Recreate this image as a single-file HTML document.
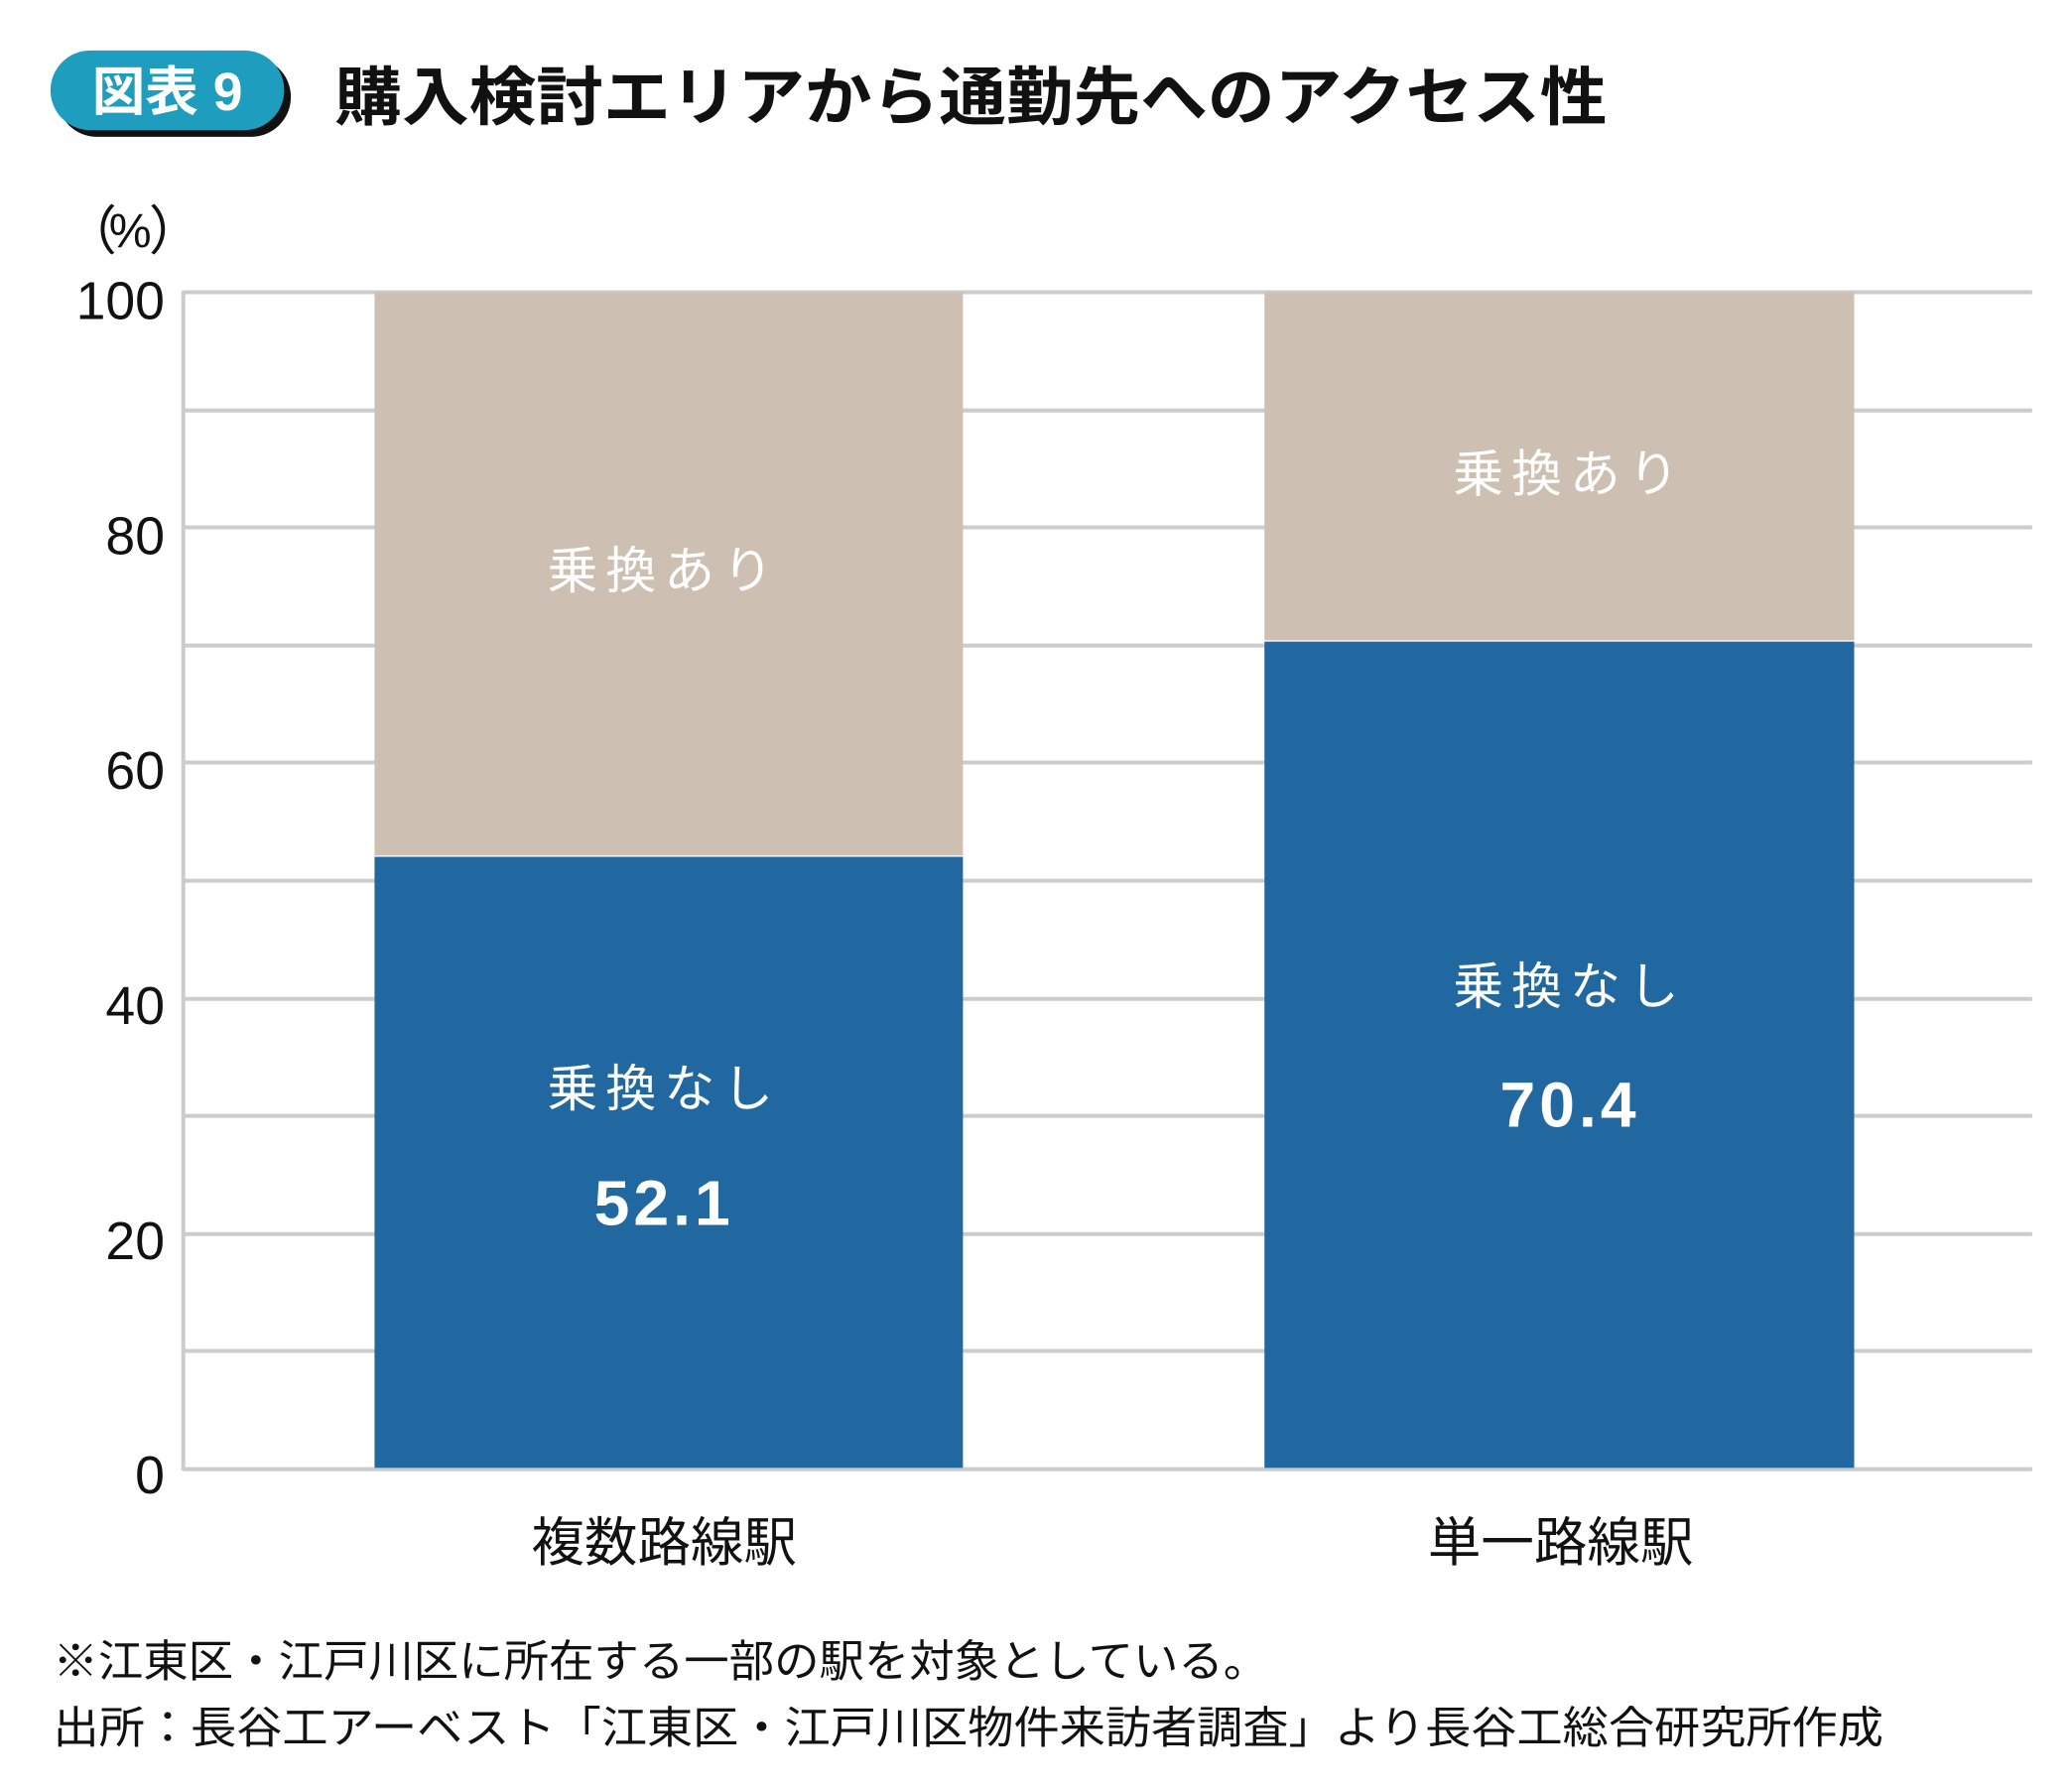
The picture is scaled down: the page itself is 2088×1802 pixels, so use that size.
<!DOCTYPE html>
<html><head><meta charset="utf-8"><style>
html,body{margin:0;padding:0;background:#fff;}
svg{display:block;}
text{font-family:"Liberation Sans","Noto Sans CJK JP",sans-serif;}
</style></head><body>
<svg width="2088" height="1802" viewBox="0 0 1560 1346" preserveAspectRatio="none" xmlns="http://www.w3.org/2000/svg">
<rect width="1560" height="1346" fill="#fff"/>
<rect x="43" y="43" width="176" height="60" rx="30" fill="#111"/>
<rect x="38" y="38" width="176" height="60" rx="30" fill="#1e9dbf"/>
<text x="126" y="83" font-size="40" fill="#fff" text-anchor="middle" font-weight="bold">図表 9</text>
<text x="252" y="90" font-size="48" font-weight="bold" fill="#111" textLength="958" lengthAdjust="spacingAndGlyphs">購入検討エリアから通勤先へのアクセス性</text>
<g font-size="40" fill="#111" font-family="'Noto Sans CJK JP',sans-serif">
<text x="48" y="188">（</text>
<text x="82" y="186" font-size="36">%</text>
<text x="112" y="188">）</text>
</g>
<g stroke="#cccccc" stroke-width="3">
<line x1="138" y1="220" x2="1530" y2="220"/>
<line x1="138" y1="309" x2="1530" y2="309"/>
<line x1="138" y1="397" x2="1530" y2="397"/>
<line x1="138" y1="486" x2="1530" y2="486"/>
<line x1="138" y1="574" x2="1530" y2="574"/>
<line x1="138" y1="663" x2="1530" y2="663"/>
<line x1="138" y1="752" x2="1530" y2="752"/>
<line x1="138" y1="840" x2="1530" y2="840"/>
<line x1="138" y1="929" x2="1530" y2="929"/>
<line x1="138" y1="1017" x2="1530" y2="1017"/>
<line x1="138" y1="1106" x2="1530" y2="1106"/>
<line x1="138" y1="219" x2="138" y2="1107"/>
</g>
<g font-size="40" fill="#111" text-anchor="end">
<text x="124" y="240">100</text>
<text x="124" y="417">80</text>
<text x="124" y="594">60</text>
<text x="124" y="771">40</text>
<text x="124" y="948">20</text>
<text x="124" y="1124">0</text>
</g>
<rect x="282" y="220" width="443" height="424" fill="#cdbfb2"/>
<rect x="282" y="645" width="443" height="460" fill="#2268a0"/>
<rect x="952" y="220" width="444" height="262" fill="#cdbfb2"/>
<rect x="952" y="483" width="444" height="622" fill="#2268a0"/>
<g fill="#fff" text-anchor="middle">
<text x="500" y="443" font-size="38" letter-spacing="6">乗換あり</text>
<text x="500" y="833" font-size="38" letter-spacing="6">乗換なし</text>
<text x="500" y="922" font-size="48" font-weight="bold" letter-spacing="3">52.1</text>
<text x="1182" y="370" font-size="38" letter-spacing="6">乗換あり</text>
<text x="1182" y="756" font-size="38" letter-spacing="6">乗換なし</text>
<text x="1182" y="848" font-size="48" font-weight="bold" letter-spacing="3">70.4</text>
</g>
<g font-size="40" fill="#111" text-anchor="middle">
<text x="500" y="1175">複数路線駅</text>
<text x="1175" y="1175">単一路線駅</text>
</g>
<text x="40" y="1262" font-size="33" fill="#111" textLength="915" lengthAdjust="spacingAndGlyphs">※江東区・江戸川区に所在する一部の駅を対象としている。</text>
<text x="40" y="1312" font-size="33" fill="#111" textLength="1378" lengthAdjust="spacingAndGlyphs">出所：長谷工アーベスト「江東区・江戸川区物件来訪者調査」より長谷工総合研究所作成</text>
</svg>
</body></html>
